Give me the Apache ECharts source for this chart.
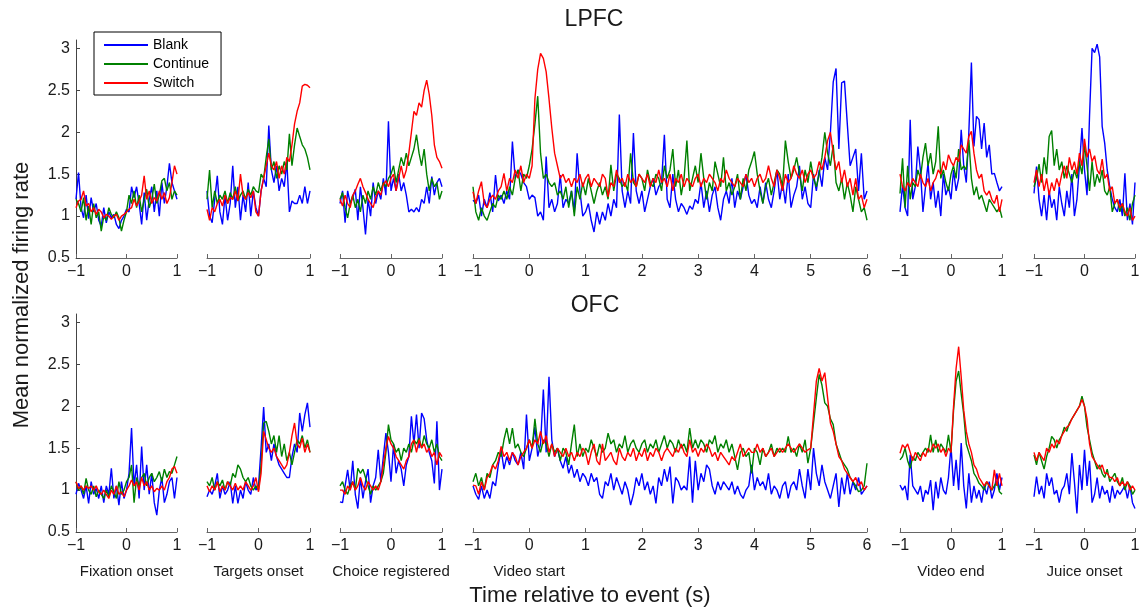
<!DOCTYPE html>
<html><head><meta charset="utf-8">
<script src="https://cdn.jsdelivr.net/npm/echarts@6/dist/echarts.min.js"></script>
<style>html,body{margin:0;padding:0;background:#fff}#c{width:1139px;height:607px}</style>
</head><body><div id="c"></div>
<script>
// ---------------- DATA (bin width 0.05 s) ----------------
const seriesNames = ['Blank', 'Continue', 'Switch'];
const regionTitles = ['LPFC', 'OFC'];
const eventNames = ['Fixation onset', 'Targets onset', 'Choice registered', 'Video start', 'Video end', 'Juice onset'];
const eventStart = [-1, -1, -1, -1, -1, -1];
const eventEnd = [1, 1, 1, 6, 1, 1];
const binWidth = 0.05;
const xTicksShort = [-1, 0, 1];
const xTicksLong = [-1, 0, 1, 2, 3, 4, 5, 6];
const yTicks = [0.5, 1, 1.5, 2, 2.5, 3];
const yMin = 0.5, yMax = 3.1;

// LPFC
const lpfcFixBlank = [1.20,1.52,1.10,0.98,1.25,0.97,1.22,1.05,1.15,0.95,
 0.88,1.10,0.92,1.05,0.98,1.02,0.90,0.85,0.95,1.00,
 1.08,1.05,1.35,1.22,1.35,1.15,0.90,1.28,0.95,1.20,
 1.35,1.05,1.30,1.00,1.40,1.15,1.35,1.63,1.40,1.30,1.20];
const lpfcFixContinue = [1.20,1.15,1.05,1.22,0.95,1.12,0.90,1.15,0.98,1.05,
 0.82,1.00,0.95,1.10,1.02,0.98,1.05,0.98,0.82,0.95,
 1.05,1.25,1.15,1.30,1.10,1.25,1.05,1.20,1.32,1.10,
 1.20,1.38,1.15,1.25,1.42,1.45,1.30,1.40,1.20,1.30,1.25];
const lpfcFixSwitch = [1.10,1.18,1.20,1.30,1.12,1.15,1.05,1.10,1.02,1.08,
 1.05,0.98,1.02,1.00,0.96,1.00,1.02,0.95,1.00,1.02,
 1.05,1.08,1.10,1.20,1.12,1.18,1.25,1.48,1.20,1.30,
 1.15,1.22,1.18,1.30,1.20,1.28,1.15,1.22,1.40,1.60,1.50];

const lpfcTargBlank = [1.30,1.00,0.92,1.20,1.48,1.05,0.90,1.25,0.95,1.15,
 1.60,1.10,1.35,0.95,1.25,1.05,1.40,1.00,1.30,1.10,
 1.00,1.30,1.45,1.35,2.08,1.55,1.40,1.60,1.30,1.45,
 1.35,1.65,1.05,1.18,1.15,1.15,1.25,1.15,1.35,1.15,1.30];
const lpfcTargContinue = [1.20,1.55,1.10,1.30,1.15,1.25,1.20,1.30,1.15,1.28,
 1.20,1.35,1.18,1.25,1.30,1.20,1.32,1.25,1.35,1.30,
 1.28,1.50,1.45,1.70,1.92,1.55,1.65,1.45,1.60,1.50,
 1.65,1.55,1.98,1.60,1.85,2.05,1.95,1.85,1.80,1.70,1.55];
const lpfcTargSwitch = [1.08,0.95,1.10,1.05,1.15,1.20,1.12,1.25,1.15,1.22,
 1.20,1.30,1.18,1.50,1.25,1.20,1.28,1.22,1.30,1.05,
 1.00,1.30,1.45,1.60,1.75,1.60,1.55,1.65,1.45,1.60,
 1.50,1.70,1.65,1.85,2.10,2.25,2.35,2.55,2.57,2.56,2.53];

const lpfcChoiceBlank = [1.15,1.30,0.92,1.30,1.15,1.22,1.32,0.95,1.35,1.10,
 0.78,1.20,1.00,1.40,1.15,1.30,1.20,1.45,1.25,2.13,
 1.30,1.45,1.30,1.50,1.30,1.40,1.25,1.05,1.08,1.05,
 1.10,1.05,1.20,1.15,1.35,1.15,1.47,1.25,1.40,1.45,1.35];
const lpfcChoiceContinue = [1.20,1.28,1.10,0.98,1.15,1.25,1.10,1.20,1.05,1.25,
 1.15,1.30,1.20,1.35,1.25,1.40,1.30,1.40,1.35,1.45,
 1.50,1.60,1.40,1.55,1.70,1.60,1.75,1.60,1.70,1.80,
 1.97,1.75,1.60,1.80,1.50,1.30,1.45,1.35,1.40,1.20,1.30];
const lpfcChoiceSwitch = [1.20,1.12,1.25,1.15,1.10,1.25,1.30,1.38,1.45,1.35,
 1.28,1.20,1.15,1.10,1.22,1.30,1.25,1.38,1.42,1.35,
 1.45,1.50,1.30,1.45,1.60,1.45,1.55,1.75,2.00,2.25,
 2.20,2.35,2.30,2.50,2.62,2.45,2.20,1.85,1.70,1.65,1.57];

const lpfcVidStartBlank = [1.19,1.15,1.25,1.00,1.20,1.10,1.28,1.05,1.49,1.18,
 1.25,1.15,1.30,1.20,1.89,1.45,1.55,1.50,1.40,1.35,
 1.20,1.25,1.22,1.00,1.05,0.95,1.71,1.10,1.20,1.05,
 1.15,1.49,1.10,1.20,1.15,1.30,1.05,1.75,1.30,1.00,
 1.05,1.15,0.95,0.81,1.05,0.90,1.05,0.95,1.15,1.00,
 1.20,1.10,2.21,1.30,1.10,1.30,1.15,1.99,1.30,1.15,
 1.30,1.05,1.20,1.35,1.45,1.25,1.35,1.40,1.97,1.20,
 1.10,1.50,1.20,1.05,1.15,1.10,1.02,1.12,1.08,1.20,
 1.15,1.40,1.10,1.30,1.05,1.25,1.35,1.10,0.95,1.20,
 1.30,1.15,1.45,1.10,1.30,1.20,1.35,1.50,1.25,1.15,
 1.20,1.10,1.35,1.15,1.40,1.20,1.10,1.30,1.55,1.20,
 1.40,1.15,1.50,1.10,1.25,1.35,1.60,1.20,1.35,1.15,
 1.10,1.50,1.30,1.55,1.35,1.70,1.55,2.00,2.60,2.76,
 1.80,2.59,2.61,2.10,1.60,1.70,1.80,1.30,1.75,1.20,1.30];
const lpfcVidStartContinue = [1.35,1.05,0.95,1.10,1.00,0.95,1.05,1.15,1.10,1.25,
 1.20,1.30,1.20,1.35,1.25,1.45,1.55,1.30,1.50,1.45,
 1.60,1.80,2.10,2.43,1.75,1.45,1.50,1.40,1.35,1.40,
 1.25,1.30,1.20,1.35,1.10,1.30,1.00,1.35,1.20,1.40,
 1.25,1.45,1.30,1.15,1.30,1.40,1.25,1.35,1.20,1.61,
 1.30,1.50,1.45,1.35,1.40,1.30,1.75,1.40,1.35,1.50,
 1.45,1.30,1.55,1.40,1.35,1.50,1.45,1.30,1.60,1.45,
 1.55,1.80,1.35,1.55,1.25,1.45,1.90,1.30,1.45,1.60,
 1.40,1.75,1.45,1.20,1.40,1.30,1.65,1.50,1.35,1.70,
 1.30,1.40,1.25,1.35,1.50,1.20,1.45,1.30,1.55,1.65,
 1.77,1.50,1.30,1.15,1.35,1.45,1.25,1.40,1.55,1.50,
 1.35,1.90,1.65,1.45,1.55,1.70,1.50,1.30,1.55,1.40,
 1.65,1.45,1.35,1.50,1.70,2.00,1.75,1.60,1.85,1.40,
 1.30,1.45,1.20,1.40,1.25,1.05,1.35,1.20,1.05,1.10,0.95];
const lpfcVidStartSwitch = [1.29,1.15,1.30,1.41,1.15,1.10,1.20,1.25,1.20,1.30,
 1.35,1.51,1.30,1.45,1.40,1.55,1.45,1.60,1.40,1.50,
 1.45,1.60,2.40,2.75,2.94,2.88,2.72,2.40,2.05,1.75,
 1.60,1.45,1.50,1.40,1.45,1.35,1.45,1.40,1.50,1.35,
 1.45,1.50,1.35,1.45,1.40,1.35,1.50,1.45,1.23,1.40,
 1.35,1.55,1.40,1.45,1.35,1.50,1.40,1.45,1.35,1.50,
 1.45,1.40,1.50,1.35,1.45,1.40,1.55,1.40,1.45,1.35,
 1.50,1.30,1.45,1.40,1.50,1.35,1.45,1.40,1.35,1.45,
 1.50,1.35,1.45,1.40,1.50,1.45,1.40,1.30,1.45,1.40,
 1.55,1.45,1.40,1.35,1.45,1.40,1.35,1.50,1.40,1.45,
 1.35,1.45,1.50,1.40,1.45,1.60,1.45,1.35,1.55,1.45,
 1.30,1.50,1.40,1.45,1.60,1.50,1.45,1.55,1.40,1.50,
 1.55,1.45,1.50,1.65,1.55,1.70,1.90,2.00,1.75,1.55,
 1.65,1.40,1.55,1.35,1.45,1.25,1.45,1.20,1.25,1.10,1.20];

const lpfcVidEndBlank = [1.05,1.37,1.10,1.00,2.15,1.20,1.35,1.83,1.55,1.05,
 1.35,1.63,1.20,1.40,1.10,1.30,1.00,1.50,1.25,1.35,
 1.20,1.55,1.30,1.45,2.03,1.60,1.40,2.00,2.83,1.83,
 2.19,2.15,1.80,2.11,1.70,1.85,1.50,1.51,1.40,1.30,1.35];
const lpfcVidEndContinue = [1.27,1.69,1.10,1.60,1.20,1.40,1.35,1.55,1.45,1.70,
 1.87,1.60,1.75,1.50,1.65,2.07,1.45,1.55,1.40,1.30,
 1.50,1.60,1.45,1.80,1.55,1.60,1.55,1.91,1.45,1.25,
 1.35,1.20,1.25,1.15,1.05,1.20,1.15,1.10,1.05,1.10,0.98];
const lpfcVidEndSwitch = [1.50,1.35,1.30,1.40,1.35,1.45,1.40,1.35,1.50,1.40,
 1.35,1.45,1.30,1.40,1.45,1.55,1.50,1.65,1.55,1.73,
 1.65,1.60,1.70,1.65,1.85,1.80,1.75,1.95,2.01,1.75,
 1.55,1.45,1.50,1.30,1.25,1.30,1.20,1.15,1.25,1.05,1.20];

const lpfcJuiceBlank = [1.27,1.59,1.20,1.00,1.25,0.95,1.30,1.10,1.20,0.95,
 1.35,1.15,1.00,1.30,1.10,1.50,1.00,1.20,1.60,2.05,
 1.55,1.25,2.20,3.00,2.95,3.05,2.90,2.07,1.87,1.55,
 1.35,1.20,1.10,1.05,1.20,1.00,1.51,0.95,1.15,0.90,1.40];
const lpfcJuiceContinue = [1.35,1.45,1.62,1.40,1.70,1.50,1.95,2.02,1.60,1.80,
 1.55,1.65,1.45,1.60,1.50,1.40,1.55,1.45,1.65,1.50,
 1.85,1.60,1.30,1.65,1.35,1.50,1.40,1.55,1.30,1.25,
 1.35,1.05,1.15,1.20,1.05,1.15,1.00,1.10,0.95,1.15,1.25];
const lpfcJuiceSwitch = [1.40,1.55,1.35,1.50,1.30,1.45,1.25,1.40,1.30,1.45,
 1.35,1.50,1.60,1.45,1.70,1.55,1.65,1.50,1.75,1.60,
 1.92,1.70,1.80,1.65,1.72,1.55,1.50,1.68,1.45,1.50,
 1.30,1.35,1.15,1.20,1.10,1.15,1.05,1.00,1.10,0.95,1.00];

// OFC
const ofcFixBlank = [0.95,1.08,1.00,0.90,1.05,0.84,1.10,0.95,1.02,0.90,
 1.05,0.85,1.05,0.95,1.26,0.90,1.05,0.82,1.10,0.90,
 1.00,1.20,1.74,1.05,1.30,0.90,1.52,1.00,1.30,0.95,
 1.20,0.85,0.70,1.00,1.15,0.85,0.95,1.10,1.15,0.90,1.15];
const ofcFixContinue = [1.10,1.00,1.05,0.95,1.14,1.00,0.95,1.05,0.92,1.00,
 0.95,0.90,1.00,0.92,1.05,0.98,0.90,1.10,0.95,1.00,
 1.10,1.15,1.30,0.85,1.15,1.05,1.15,1.20,1.05,1.15,
 1.20,1.10,1.15,1.22,1.10,1.25,1.15,1.22,1.20,1.30,1.40];
const ofcFixSwitch = [1.10,1.02,1.05,1.00,1.05,1.02,1.05,1.00,1.05,0.98,
 0.95,1.00,0.95,0.90,1.00,0.95,1.05,0.95,0.98,0.92,
 1.00,1.05,1.12,1.05,1.10,1.00,1.15,1.05,1.10,1.00,
 1.05,0.98,1.02,1.00,1.05,1.00,1.10,1.15,1.25,1.28,1.20];

const ofcTargBlank = [0.92,1.00,0.95,1.05,1.20,0.90,1.05,0.95,1.00,1.10,
 0.84,1.05,0.84,1.00,0.90,1.10,1.00,0.95,1.15,1.00,
 1.05,1.50,1.99,1.45,1.55,1.35,1.55,1.40,1.30,1.25,
 1.20,1.15,1.15,1.40,1.55,1.45,1.92,1.70,1.90,2.04,1.75];
const ofcTargContinue = [1.10,1.05,1.15,1.00,1.10,1.05,1.12,1.00,1.10,1.05,
 1.20,1.15,1.30,1.25,1.15,1.10,1.15,1.05,1.00,1.05,
 1.00,1.30,1.80,1.82,1.70,1.55,1.65,1.45,1.65,1.40,
 1.55,1.35,1.45,1.30,1.45,1.60,1.55,1.65,1.50,1.60,1.45];
const ofcTargSwitch = [1.05,0.98,1.05,1.00,1.10,0.98,1.05,1.00,1.10,1.05,
 1.00,1.08,1.00,1.05,1.00,1.10,1.05,1.00,1.05,1.15,
 0.98,1.20,1.70,1.60,1.50,1.45,1.50,1.40,1.35,1.30,
 1.25,1.30,1.45,1.65,1.80,1.55,1.50,1.62,1.45,1.55,1.45];

const ofcChoiceBlank = [0.86,0.85,1.05,1.24,1.00,1.35,0.95,0.78,1.15,0.90,
 1.10,1.25,0.85,1.05,1.15,1.48,1.10,1.40,1.68,1.45,
 1.10,1.55,1.20,1.35,1.25,1.05,1.30,1.40,1.88,1.55,
 1.90,1.50,1.92,1.85,1.60,1.45,1.35,1.08,1.82,1.00,1.25];
const ofcChoiceContinue = [1.05,1.10,1.00,0.95,1.05,1.10,1.00,1.26,1.20,1.25,
 1.15,1.05,0.95,1.05,1.00,1.05,1.10,1.20,1.45,1.78,
 1.60,1.55,1.45,1.50,1.35,1.50,1.45,1.55,1.45,1.60,
 1.55,1.62,1.50,1.65,1.55,1.50,1.60,1.45,1.55,1.40,1.35];
const ofcChoiceSwitch = [1.00,1.00,0.95,1.05,1.00,1.10,1.00,1.05,1.15,1.05,
 1.00,1.10,1.05,1.00,1.05,1.00,1.10,1.30,1.50,1.64,
 1.55,1.50,1.40,1.35,1.30,1.25,1.35,1.40,1.55,1.60,
 1.45,1.60,1.50,1.55,1.45,1.50,1.40,1.45,1.30,1.45,1.40];

const ofcVidStartBlank = [1.05,0.95,0.89,1.05,0.90,1.00,0.90,1.10,1.05,1.30,
 1.48,1.25,1.40,1.30,1.45,1.35,1.30,1.45,1.25,1.90,
 1.35,1.50,1.75,1.40,1.55,2.20,1.45,2.35,1.60,1.40,
 1.50,1.35,1.26,1.40,1.20,1.30,1.15,1.25,1.10,1.20,
 1.15,1.05,1.20,1.10,1.15,0.95,0.90,1.10,1.05,1.20,
 1.00,1.15,1.05,0.95,1.10,1.00,0.82,0.95,1.15,1.05,
 1.20,1.00,1.10,0.95,1.05,0.84,1.15,1.05,1.25,1.10,
 1.28,0.84,1.15,1.10,1.00,1.05,1.00,1.40,0.85,1.35,
 1.00,1.20,1.10,1.30,1.25,1.05,0.95,1.10,1.00,1.10,
 1.05,1.00,1.10,0.95,1.05,0.95,0.90,1.00,1.05,1.30,
 1.00,1.15,1.05,1.10,1.00,1.20,0.95,1.05,1.00,0.90,
 1.05,1.10,0.90,1.05,1.10,1.00,1.25,1.05,0.90,1.25,
 1.00,1.50,1.20,1.05,1.30,1.10,1.00,0.90,1.05,1.20,
 0.80,1.15,0.95,1.20,0.95,1.10,1.00,1.15,0.95,1.00,1.05];
const ofcVidStartContinue = [1.10,1.20,1.05,1.15,1.00,1.20,1.15,1.30,1.35,1.45,
 1.40,1.60,1.74,1.55,1.74,1.50,1.55,1.45,1.40,1.50,
 1.60,1.50,1.85,1.55,1.45,1.60,1.55,1.40,1.55,1.45,
 1.50,1.35,1.50,1.45,1.30,1.55,1.78,1.40,1.55,1.40,
 1.50,1.45,1.60,1.50,1.40,1.55,1.45,1.50,1.68,1.55,
 1.60,1.45,1.55,1.50,1.65,1.45,1.55,1.60,1.50,1.45,
 1.55,1.60,1.45,1.55,1.50,1.60,1.45,1.55,1.65,1.50,
 1.60,1.55,1.45,1.60,1.50,1.55,1.45,1.74,1.50,1.60,
 1.50,1.60,1.55,1.45,1.60,1.55,1.65,1.45,1.55,1.50,
 1.60,1.45,1.55,1.40,1.24,1.45,1.50,1.40,1.45,1.20,
 1.50,1.45,1.30,1.50,1.40,1.45,1.55,1.40,1.50,1.45,
 1.50,1.45,1.64,1.45,1.50,1.40,1.55,1.45,1.60,1.32,
 1.50,1.80,2.10,2.38,2.25,2.04,2.00,1.85,1.78,1.55,
 1.45,1.35,1.30,1.25,1.15,1.10,1.05,0.98,1.00,1.05,1.32];
const ofcVidStartSwitch = [1.06,1.05,0.95,1.10,1.00,1.15,1.20,1.30,1.25,1.35,
 1.52,1.40,1.45,1.35,1.45,1.40,1.30,1.40,1.45,1.50,
 1.60,1.50,1.60,1.55,1.70,1.55,1.65,1.45,1.55,1.40,
 1.50,1.45,1.40,1.50,1.40,1.45,1.35,1.45,1.40,1.50,
 1.45,1.30,1.45,1.55,1.35,1.30,1.55,1.35,1.40,1.45,
 1.35,1.30,1.50,1.40,1.35,1.45,1.40,1.50,1.35,1.45,
 1.40,1.50,1.35,1.45,1.40,1.50,1.45,1.35,1.45,1.50,
 1.45,1.40,1.50,1.45,1.55,1.45,1.40,1.60,1.45,1.50,
 1.40,1.50,1.45,1.55,1.50,1.40,1.45,1.35,1.45,1.40,
 1.35,1.30,1.40,1.35,1.45,1.55,1.40,1.45,1.50,1.45,
 1.45,1.55,1.45,1.50,1.40,1.45,1.50,1.40,1.45,1.50,
 1.45,1.50,1.55,1.50,1.45,1.50,1.55,1.50,1.45,1.48,
 1.50,1.90,2.30,2.45,2.30,2.40,2.10,1.80,1.70,1.55,
 1.40,1.35,1.25,1.20,1.15,1.10,1.15,1.05,1.10,1.00,1.05];

const ofcVidEndBlank = [1.06,1.00,1.05,0.88,1.42,1.05,1.00,0.95,1.05,0.86,
 1.00,0.95,1.12,0.76,1.10,0.90,1.15,1.00,0.95,1.15,
 1.52,1.05,1.36,1.00,1.56,1.05,0.78,1.20,0.85,1.05,
 0.90,1.00,0.85,1.05,0.95,1.10,0.90,1.00,1.20,1.00,1.15];
const ofcVidEndContinue = [1.36,1.40,1.50,1.35,1.26,1.40,1.35,1.45,1.40,1.45,
 1.50,1.45,1.66,1.45,1.60,1.45,1.55,1.50,1.45,1.66,
 1.45,1.95,2.30,2.42,2.15,1.90,1.55,1.45,1.35,1.20,
 1.15,1.08,1.05,1.00,1.10,1.05,1.00,1.05,1.10,0.98,0.95];
const ofcVidEndSwitch = [1.44,1.54,1.50,1.55,1.45,1.35,1.45,1.40,1.35,1.45,
 1.40,1.50,1.45,1.55,1.50,1.55,1.45,1.50,1.40,1.50,
 1.45,2.00,2.45,2.71,2.35,1.95,1.70,1.55,1.45,1.30,
 1.25,1.15,1.10,1.05,1.10,1.05,1.00,1.24,1.05,1.20,1.05];

const ofcJuiceBlank = [0.92,1.16,0.95,1.05,0.90,1.20,1.05,1.15,0.95,1.00,
 0.85,1.00,1.05,1.20,0.95,1.44,1.10,0.72,1.30,1.00,
 1.48,1.05,1.35,0.85,0.95,1.15,0.90,1.05,0.95,1.00,
 0.85,1.05,0.90,1.00,0.95,1.00,1.05,0.90,1.05,0.85,0.78];
const ofcJuiceContinue = [1.42,1.30,1.45,1.35,1.25,1.40,1.50,1.64,1.60,1.50,
 1.60,1.65,1.75,1.70,1.80,1.85,1.90,1.95,2.00,2.12,
 2.00,1.75,1.60,1.45,1.35,1.25,1.30,1.20,1.15,1.25,
 1.10,1.15,1.20,1.10,1.05,1.15,1.00,1.10,1.05,0.95,1.00];
const ofcJuiceSwitch = [1.45,1.35,1.45,1.40,1.35,1.50,1.45,1.55,1.50,1.60,
 1.55,1.65,1.70,1.75,1.78,1.85,1.90,1.95,2.00,2.08,
 2.00,1.85,1.55,1.40,1.35,1.30,1.25,1.30,1.20,1.20,
 1.15,1.15,1.10,1.15,1.05,1.10,1.05,1.10,1.00,1.05,1.00];

// ---------------- ASSEMBLY ----------------
const regions = [
  [[lpfcFixBlank, lpfcFixContinue, lpfcFixSwitch],
   [lpfcTargBlank, lpfcTargContinue, lpfcTargSwitch],
   [lpfcChoiceBlank, lpfcChoiceContinue, lpfcChoiceSwitch],
   [lpfcVidStartBlank, lpfcVidStartContinue, lpfcVidStartSwitch],
   [lpfcVidEndBlank, lpfcVidEndContinue, lpfcVidEndSwitch],
   [lpfcJuiceBlank, lpfcJuiceContinue, lpfcJuiceSwitch]],
  [[ofcFixBlank, ofcFixContinue, ofcFixSwitch],
   [ofcTargBlank, ofcTargContinue, ofcTargSwitch],
   [ofcChoiceBlank, ofcChoiceContinue, ofcChoiceSwitch],
   [ofcVidStartBlank, ofcVidStartContinue, ofcVidStartSwitch],
   [ofcVidEndBlank, ofcVidEndContinue, ofcVidEndSwitch],
   [ofcJuiceBlank, ofcJuiceContinue, ofcJuiceSwitch]]
];

// layout (pixels)
const panelLeft = [76, 207, 340, 473, 900, 1034];
const panelRight = [177, 310, 442, 867, 1002, 1135];
const rowTop = [40, 314];
const rowHeight = 218;
const colors = ['#0000ff', '#008000', '#ff0000'];
const FONT = 'Liberation Sans, Arial, Helvetica, sans-serif';
const axisColor = '#666';
const textColor = '#1a1a1a';

const fmtTick = v => (v < 0 ? '\u2212' + Math.abs(v) : String(v));

const grids = [], xAxes = [], yAxes = [], series = [];
for (let r = 0; r < 2; r++) {
  for (let p = 0; p < 6; p++) {
    const g = r * 6 + p;
    grids.push({ left: panelLeft[p], top: rowTop[r], width: panelRight[p] - panelLeft[p], height: rowHeight,
      containLabel: false, outerBoundsMode: 'none', show: false });
    const xt = eventEnd[p] > 1 ? xTicksLong : xTicksShort;
    xAxes.push({ gridIndex: g, type: 'value', min: eventStart[p], max: eventEnd[p], interval: 1,
      axisLine: { show: true, onZero: false, lineStyle: { color: axisColor, width: 1 } },
      axisTick: { show: true, inside: true, length: 4, customValues: xt, lineStyle: { color: axisColor, width: 1 } },
      axisLabel: { show: true, customValues: xt, formatter: fmtTick, fontSize: 16, color: textColor, margin: 6, fontFamily: FONT },
      splitLine: { show: false } });
    yAxes.push({ gridIndex: g, type: 'value', min: yMin, max: yMax, show: p === 0,
      axisLine: { show: true, onZero: false, lineStyle: { color: '#444', width: 1 } },
      axisTick: { show: true, inside: true, length: 4, customValues: yTicks, lineStyle: { color: '#444', width: 1 } },
      axisLabel: { show: true, customValues: yTicks, formatter: v => String(v), fontSize: 16, color: textColor, margin: 6, fontFamily: FONT },
      splitLine: { show: false } });
    for (let s = 0; s < 3; s++) {
      const vals = regions[r][p][s];
      series.push({ type: 'line', name: seriesNames[s], xAxisIndex: g, yAxisIndex: g,
        data: vals.map((v, i) => [+(eventStart[p] + i * binWidth).toFixed(2), v]),
        showSymbol: false, symbol: 'none', clip: true, z: 2 + s,
        lineStyle: { width: 1.4, color: colors[s] }, itemStyle: { color: colors[s] },
        emphasis: { disabled: true } });
    }
  }
}

const graphics = [];
const txt = (x, y, text, size, extra) => Object.assign({ type: 'text', x, y, silent: true,
  style: { text, fontSize: size, fontFamily: FONT, fill: textColor, align: 'center', verticalAlign: 'middle',
    textAlign: 'center', textVerticalAlign: 'middle' } }, extra || {});
graphics.push(txt(594, 20, regionTitles[0], 23));
graphics.push(txt(595, 306, regionTitles[1], 23));
graphics.push(txt(22, 295, 'Mean normalized firing rate', 22, { rotation: Math.PI / 2 }));
graphics.push(txt(590, 596, 'Time relative to event (s)', 22));
for (let p = 0; p < 6; p++) {
  const x0 = panelLeft[p] + (0 - eventStart[p]) / (eventEnd[p] - eventStart[p]) * (panelRight[p] - panelLeft[p]);
  graphics.push(txt(x0, 572, eventNames[p], 15));
}

const chart = echarts.init(document.getElementById('c'), null, { renderer: 'canvas' });
chart.setOption({
  animation: false,
  backgroundColor: '#fff',
  grid: grids, xAxis: xAxes, yAxis: yAxes, series,
  legend: { data: seriesNames, orient: 'vertical', left: 94, top: 32, icon: 'rect', itemWidth: 44, itemHeight: 2,
    itemGap: 3, borderColor: '#000', borderWidth: 1, borderRadius: 0, backgroundColor: '#fff',
    padding: [5, 12, 4, 10], selectedMode: false,
    textStyle: { fontSize: 14, color: '#000', lineHeight: 16, fontFamily: FONT } },
  graphic: graphics
});
</script></body></html>
